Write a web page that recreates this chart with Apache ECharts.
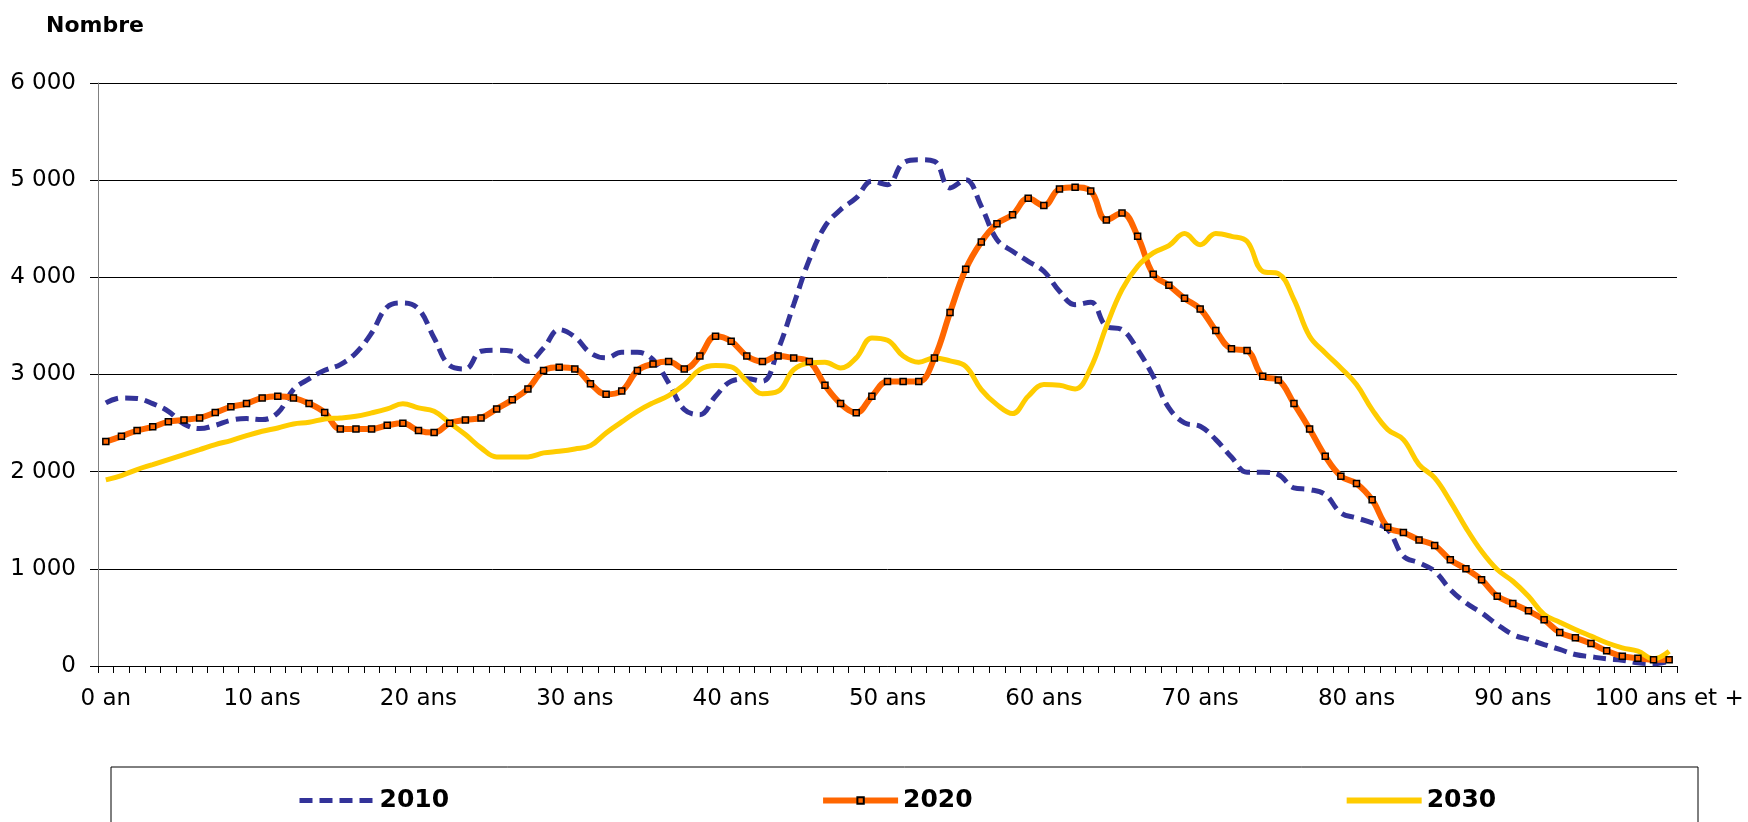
<!DOCTYPE html>
<html>
<head>
<meta charset="utf-8">
<script src="https://cdn.jsdelivr.net/npm/echarts@6/dist/echarts.min.js"></script>
<style>
  html, body { margin: 0; padding: 0; background: #fff; }
  #chart { width: 1748px; height: 822px; }
</style>
</head>
<body>
<div id="chart"></div>
<script>
// ages 0..100, labels shown every 10 years
var ages = [];
for (var a = 0; a <= 100; a++) {
  ages.push(a === 0 ? '0 an' : a === 1 ? '1 an' : a === 100 ? '100 ans et +' : a + ' ans');
}

var seriesNames = ['2010', '2020', '2030'];

var values2010 = [
  2708, 2759, 2753, 2700, 2621, 2490, 2443, 2477, 2529, 2546,
  2536, 2605, 2845, 2955, 3043, 3102, 3222, 3427, 3695, 3737,
  3675, 3376, 3092, 3057, 3239, 3250, 3239, 3136, 3273, 3462,
  3387, 3222, 3171, 3228, 3228, 3153, 2914, 2639, 2587, 2776,
  2930, 2955, 2930, 3256, 3720, 4182, 4525, 4697, 4817, 4989,
  4954, 5177, 5211, 5194, 4920, 5005, 4730, 4388, 4268, 4165,
  4062, 3856, 3719, 3743, 3496, 3462, 3256, 2981, 2656, 2502,
  2467, 2330, 2150, 1994, 1994, 1970, 1833, 1816, 1764, 1576,
  1524, 1473, 1404, 1130, 1062, 975, 787, 650, 547, 427,
  324, 273, 221, 170, 118, 95, 74, 60, 33, 23,
  49
];

var values2020 = [
  2310, 2364, 2423, 2461, 2515, 2533, 2553, 2608, 2667, 2701,
  2759, 2776, 2759, 2701, 2608, 2440, 2440, 2440, 2477, 2498,
  2423, 2402, 2498, 2533, 2553, 2646, 2739, 2852, 3040, 3074,
  3057, 2906, 2796, 2831, 3040, 3109, 3133, 3057, 3191, 3393,
  3342, 3191, 3133, 3191, 3169, 3133, 2890, 2701, 2606, 2776,
  2927, 2927, 2927, 3169, 3638, 4083, 4364, 4552, 4645, 4813,
  4738, 4909, 4926, 4889, 4590, 4662, 4422, 4031, 3918, 3784,
  3675, 3452, 3265, 3246, 2981, 2944, 2701, 2440, 2159, 1953,
  1878, 1710, 1428, 1373, 1298, 1240, 1093, 1000, 887, 718,
  643, 568, 475, 345, 290, 231, 156, 101, 80, 64,
  64
];

var values2030 = [
  1915, 1960, 2022, 2073, 2125, 2176, 2227, 2279, 2320, 2371,
  2416, 2450, 2491, 2508, 2543, 2553, 2570, 2605, 2646, 2698,
  2656, 2621, 2502, 2382, 2245, 2152, 2152, 2152, 2193, 2210,
  2234, 2268, 2399, 2512, 2621, 2708, 2783, 2896, 3050, 3092,
  3078, 2930, 2803, 2827, 3050, 3119, 3126, 3068, 3171, 3376,
  3352, 3190, 3126, 3171, 3140, 3084, 2845, 2690, 2598, 2776,
  2896, 2889, 2852, 3068, 3496, 3874, 4113, 4251, 4326, 4450,
  4336, 4450, 4422, 4370, 4062, 4038, 3771, 3393, 3222, 3068,
  2896, 2639, 2433, 2330, 2073, 1936, 1695, 1422, 1181, 993,
  872, 718, 530, 451, 376, 307, 239, 187, 152, 74,
  152
];

var font = 'DejaVu Sans';

function fmtThousands(v) {
  return String(v).replace(/\B(?=(\d{3})+(?!\d))/g, ' ');
}

var chart = echarts.init(document.getElementById('chart'), null, { renderer: 'canvas' });

var option = {
  animation: false,
  backgroundColor: '#fff',
  title: {
    text: 'Nombre',
    left: 41,
    top: 10,
    textStyle: { fontFamily: font, fontSize: 22, fontWeight: 'bold', color: '#000' }
  },
  legend: {
    data: [
      { name: seriesNames[0], itemStyle: { opacity: 0 }, lineStyle: { width: 5, type: [13, 7] } },
      { name: seriesNames[1], lineStyle: { width: 6 } },
      { name: seriesNames[2], itemStyle: { opacity: 0 }, lineStyle: { width: 6 } }
    ],
    left: 292,
    top: 783,
    itemWidth: 75,
    itemHeight: 8,
    itemGap: 371,
    textStyle: { fontFamily: font, fontSize: 25, fontWeight: 'bold', color: '#000' }
  },
  grid: { left: 98, right: 71, top: 83, bottom: 156 },
  xAxis: {
    type: 'category',
    data: ages,
    boundaryGap: true,
    axisLine: { lineStyle: { color: '#000', width: 1 } },
    axisTick: { show: true, interval: 0, length: 7, lineStyle: { color: '#000' } },
    axisLabel: {
      interval: 9,
      margin: 22,
      fontFamily: font,
      fontSize: 23,
      color: '#000'
    },
    splitLine: { show: false }
  },
  yAxis: {
    type: 'value',
    min: 0,
    max: 6000,
    interval: 1000,
    axisLine: { show: true, lineStyle: { color: '#808080', width: 1 } },
    axisTick: { show: true, length: 8, lineStyle: { color: '#000' } },
    axisLabel: {
      margin: 22,
      fontFamily: font,
      fontSize: 23,
      color: '#000',
      formatter: fmtThousands
    },
    splitLine: { lineStyle: { color: '#000', width: 1 } }
  },
  graphic: [
    {
      type: 'rect',
      shape: { x: 111, y: 767, width: 1587, height: 80 },
      style: { fill: 'none', stroke: '#000', lineWidth: 1 },
      silent: true
    }
  ],
  series: [
    {
      name: seriesNames[0],
      type: 'line',
      data: values2010,
      smooth: 0.4,
      symbol: 'none',
      lineStyle: { color: '#333399', width: 5, type: [13, 7] },
      itemStyle: { color: '#333399' }
    },
    {
      name: seriesNames[1],
      type: 'line',
      data: values2020,
      smooth: 0.4,
      symbol: 'rect',
      symbolSize: 6,
      lineStyle: { color: '#FF6600', width: 6 },
      itemStyle: { color: '#FF6600', borderColor: '#000', borderWidth: 1.5 }
    },
    {
      name: seriesNames[2],
      type: 'line',
      data: values2030,
      smooth: 0.4,
      symbol: 'none',
      lineStyle: { color: '#FFCC00', width: 5 },
      itemStyle: { color: '#FFCC00' }
    }
  ]
};

chart.setOption(option);
</script>
</body>
</html>
